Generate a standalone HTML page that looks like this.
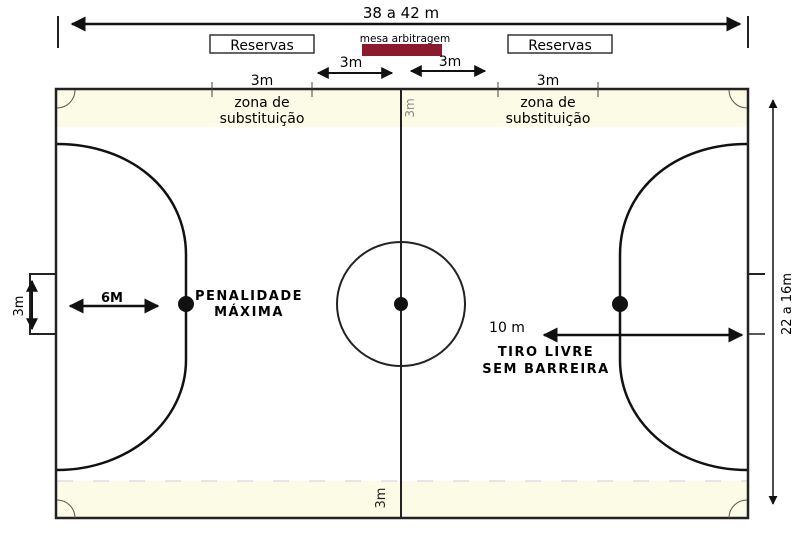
<!DOCTYPE html>
<html><head><meta charset="utf-8"><style>
html,body{margin:0;padding:0;background:#fff;width:800px;height:556px;overflow:hidden}
svg{display:block}
text{font-family:"DejaVu Sans","Liberation Sans",sans-serif}
</style></head><body>
<svg width="800" height="556" viewBox="0 0 800 556" xmlns="http://www.w3.org/2000/svg">
<defs>
<marker id="a" viewBox="0 0 10 10" refX="9" refY="5" markerWidth="6" markerHeight="6" orient="auto-start-reverse"><path d="M0,0L10,5L0,10z" fill="#111"/></marker>
</defs>
<rect x="57" y="90" width="690" height="37" fill="#fbfbe6"/>
<rect x="57" y="481" width="690" height="37" fill="#fbfbe6"/>
<line x1="57" y1="481" x2="747" y2="481" stroke="#ddd" stroke-width="1.5" stroke-dasharray="16,20"/>
<rect x="56" y="89" width="692" height="429" fill="none" stroke="#222" stroke-width="2.5"/>
<line x1="401" y1="89" x2="401" y2="518" stroke="#222" stroke-width="2"/>
<ellipse cx="401" cy="304" rx="64" ry="62" fill="none" stroke="#222" stroke-width="2"/>
<circle cx="401" cy="304" r="7" fill="#111"/>
<path d="M57,144 C130,144 186,190 186,255 L186,360 C186,420 130,470 57,470" fill="none" stroke="#111" stroke-width="2.5"/>
<circle cx="186" cy="304" r="8" fill="#111"/>
<path d="M747,144 C674,144 620,190 620,255 L620,360 C620,420 674,470 747,470" fill="none" stroke="#111" stroke-width="2.5"/>
<circle cx="620" cy="304" r="8" fill="#111"/>
<polyline points="56,274 30,274 30,334 56,334" fill="none" stroke="#222" stroke-width="2"/>
<line x1="748" y1="274" x2="765" y2="274" stroke="#222" stroke-width="2"/>
<line x1="748" y1="334" x2="765" y2="334" stroke="#222" stroke-width="1.5"/>
<path d="M57,108 A18,18 0 0 0 75,90" fill="none" stroke="#555" stroke-width="1"/>
<path d="M747,108 A18,18 0 0 1 729,90" fill="none" stroke="#555" stroke-width="1"/>
<path d="M57,500 A18,18 0 0 1 75,518" fill="none" stroke="#555" stroke-width="1"/>
<path d="M747,500 A18,18 0 0 0 729,518" fill="none" stroke="#555" stroke-width="1"/>
<line x1="58" y1="16" x2="58" y2="48" stroke="#222" stroke-width="2"/>
<line x1="748" y1="16" x2="748" y2="48" stroke="#222" stroke-width="2"/>
<line x1="72" y1="24" x2="740" y2="24" stroke="#111" stroke-width="2.5" marker-start="url(#a)" marker-end="url(#a)"/>
<text x="401" y="18" font-size="15" text-anchor="middle">38 a 42 m</text>
<rect x="210" y="35" width="104" height="18" fill="#fff" stroke="#333" stroke-width="1.5"/>
<text x="262" y="50" font-size="14" text-anchor="middle">Reservas</text>
<rect x="508" y="35" width="104" height="18" fill="#fff" stroke="#333" stroke-width="1.5"/>
<text x="560" y="50" font-size="14" text-anchor="middle">Reservas</text>
<text x="405" y="42" font-size="10.5" text-anchor="middle">mesa arbitragem</text>
<rect x="362" y="44" width="80" height="12" fill="#8b1a2e"/>
<line x1="212" y1="82" x2="212" y2="97" stroke="#444" stroke-width="1"/>
<line x1="312" y1="82" x2="312" y2="97" stroke="#444" stroke-width="1"/>
<line x1="498" y1="82" x2="498" y2="97" stroke="#444" stroke-width="1"/>
<line x1="598" y1="82" x2="598" y2="97" stroke="#444" stroke-width="1"/>
<text x="262" y="85" font-size="14" text-anchor="middle">3m</text>
<text x="548" y="85" font-size="14" text-anchor="middle">3m</text>
<line x1="318" y1="73" x2="392" y2="73" stroke="#111" stroke-width="2" marker-start="url(#a)" marker-end="url(#a)"/>
<line x1="411" y1="71" x2="485" y2="71" stroke="#111" stroke-width="2" marker-start="url(#a)" marker-end="url(#a)"/>
<text x="351" y="67" font-size="14" text-anchor="middle">3m</text>
<text x="450" y="66" font-size="14" text-anchor="middle">3m</text>
<text x="262" y="107" font-size="14" text-anchor="middle">zona de</text>
<text x="262" y="123" font-size="14" text-anchor="middle">substituição</text>
<text x="548" y="107" font-size="14" text-anchor="middle">zona de</text>
<text x="548" y="123" font-size="14" text-anchor="middle">substituição</text>
<text transform="translate(414,108) rotate(-90)" font-size="12" text-anchor="middle" fill="#888">3m</text>
<text transform="translate(385,498) rotate(-90)" font-size="13" text-anchor="middle" fill="#222">3m</text>
<line x1="70" y1="306" x2="158" y2="306" stroke="#111" stroke-width="2.5" marker-start="url(#a)" marker-end="url(#a)"/>
<text x="112" y="302" font-size="13" font-weight="bold" text-anchor="middle">6M</text>
<text x="249" y="300" font-size="13" font-weight="bold" text-anchor="middle" letter-spacing="1.5">PENALIDADE</text>
<text x="249" y="316" font-size="13" font-weight="bold" text-anchor="middle" letter-spacing="1.5">MÁXIMA</text>
<line x1="32" y1="281" x2="32" y2="329" stroke="#111" stroke-width="2" marker-start="url(#a)" marker-end="url(#a)"/>
<text transform="translate(23,306) rotate(-90)" font-size="13" text-anchor="middle">3m</text>
<line x1="544" y1="335" x2="742" y2="335" stroke="#111" stroke-width="2.5" marker-start="url(#a)" marker-end="url(#a)"/>
<text x="507" y="332" font-size="14" text-anchor="middle">10 m</text>
<text x="546" y="356" font-size="13" font-weight="bold" text-anchor="middle" letter-spacing="1.5">TIRO LIVRE</text>
<text x="546" y="373" font-size="13" font-weight="bold" text-anchor="middle" letter-spacing="1.5">SEM BARREIRA</text>
<line x1="773" y1="100" x2="773" y2="504" stroke="#111" stroke-width="1.5" marker-start="url(#a)" marker-end="url(#a)"/>
<text transform="translate(791,304) rotate(-90)" font-size="13" text-anchor="middle">22 a 16m</text>
</svg>
</body></html>
